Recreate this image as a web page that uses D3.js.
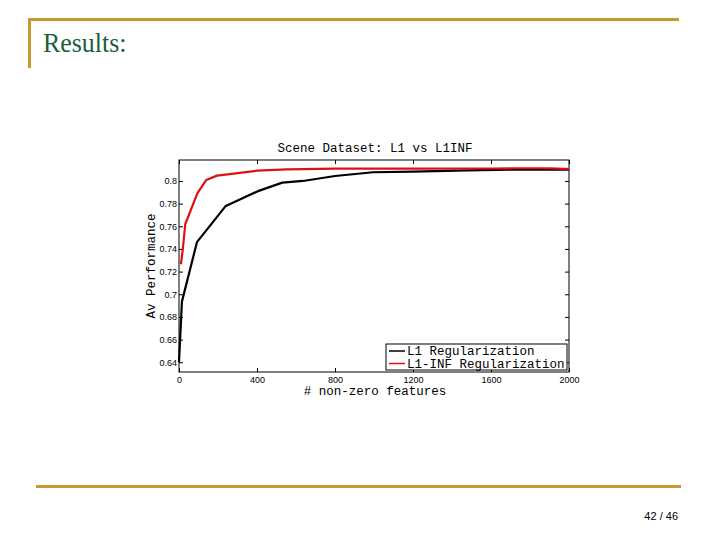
<!DOCTYPE html>
<html>
<head>
<meta charset="utf-8">
<script src="https://cdn.jsdelivr.net/npm/d3@7"></script>
<style>
  html, body { margin: 0; padding: 0; background: #fff; }
  svg { display: block; }
</style>
</head>
<body>
<svg id="chart" width="720" height="540"></svg>
<script>
// ---- data ----
const chartTitle = "Scene Dataset: L1 vs L1INF";
const xLabel = "# non-zero features";
const yLabel = "Av Performance";
const xTicks = [0, 400, 800, 1200, 1600, 2000];
const yTicks = [0.64, 0.66, 0.68, 0.70, 0.72, 0.74, 0.76, 0.78, 0.80];
const seriesNames = ["L1 Regularization", "L1-INF Regularization"];
const l1X = [0, 15, 92, 240, 405, 530, 636, 800, 995, 1200, 1480, 1700, 2000];
const l1Y = [0.640, 0.6935, 0.746, 0.778, 0.791, 0.7985, 0.800, 0.8044, 0.8077, 0.8082, 0.8094, 0.8100, 0.8100];
const linfX = [10, 20, 32, 94, 140, 195, 260, 400, 553, 800, 1200, 1600, 1700, 1900, 1980, 2000];
const linfY = [0.7265, 0.7406, 0.7618, 0.789, 0.8009, 0.8047, 0.806, 0.8091, 0.8103, 0.8109, 0.8109, 0.8110, 0.8112, 0.8112, 0.8106, 0.8108];
const pageTitle = "Results:";
const pageNumber = "42 / 46";

(function () {
const svg = d3.select("#chart");
const gold = "#c49a2c";

// ---- slide decoration ----
svg.append("line").attr("x1", 28).attr("x2", 679).attr("y1", 19.5).attr("y2", 19.5)
  .attr("stroke", gold).attr("stroke-width", 3);
svg.append("line").attr("x1", 29.5).attr("x2", 29.5).attr("y1", 18).attr("y2", 68)
  .attr("stroke", gold).attr("stroke-width", 3);
svg.append("line").attr("x1", 36).attr("x2", 681).attr("y1", 486.5).attr("y2", 486.5)
  .attr("stroke", gold).attr("stroke-width", 3);
svg.append("text").attr("x", 43).attr("y", 52)
  .attr("font-family", "'Liberation Serif', 'Times New Roman', serif")
  .attr("font-size", 27).attr("fill", "#1b5e3b")
  .attr("transform", "translate(43,52) scale(0.96,1) translate(-43,-52)")
  .text(pageTitle);
svg.append("text").attr("x", 678).attr("y", 520).attr("text-anchor", "end")
  .attr("font-family", "'Liberation Sans', Arial, sans-serif")
  .attr("font-size", 11).attr("fill", "#000")
  .text(pageNumber);

// ---- chart ----
const pLeft = 179, pRight = 569, pTop = 160, pBottom = 372;
const x = d3.scaleLinear().domain([0, 2000]).range([pLeft, pRight]);
const y = d3.scaleLinear().domain([0.6314, 0.8185]).range([pBottom, pTop]);

const tickFont = "'Liberation Sans', Arial, sans-serif";
const monoFont = "'Liberation Mono', 'Courier New', monospace";

const gxB = svg.append("g").attr("transform", `translate(0,${pBottom})`)
  .call(d3.axisBottom(x).tickValues(xTicks).tickSize(-4).tickPadding(5).tickFormat(d3.format("d")));
const gxT = svg.append("g").attr("transform", `translate(0,${pTop})`)
  .call(d3.axisTop(x).tickValues(xTicks).tickSize(-4).tickFormat(""));
const gyL = svg.append("g").attr("transform", `translate(${pLeft},0)`)
  .call(d3.axisLeft(y).tickValues(yTicks).tickSize(-4).tickPadding(2).tickFormat(d => String(+d.toFixed(2))));
const gyR = svg.append("g").attr("transform", `translate(${pRight},0)`)
  .call(d3.axisRight(y).tickValues(yTicks).tickSize(-4).tickFormat(""));
[gxB, gxT, gyL, gyR].forEach(g => {
  g.select(".domain").remove();
  g.selectAll(".tick line").attr("stroke", "#000").attr("stroke-width", 1);
  g.selectAll(".tick text").attr("font-family", tickFont).attr("font-size", 9).attr("fill", "#000");
});

svg.append("rect").attr("x", pLeft).attr("y", pTop)
  .attr("width", pRight - pLeft).attr("height", pBottom - pTop)
  .attr("fill", "none").attr("stroke", "#000").attr("stroke-width", 1);

const line = d3.line().x(d => x(d[0])).y(d => y(d[1]));
const l1Data = l1X.map((v, i) => [v, l1Y[i]]);
const linfData = linfX.map((v, i) => [v, linfY[i]]);

svg.append("path").datum(l1Data).attr("d", line)
  .attr("fill", "none").attr("stroke", "#000").attr("stroke-width", 2.2).attr("stroke-linejoin", "round");
svg.append("path").datum(linfData).attr("d", line)
  .attr("fill", "none").attr("stroke", "#e01010").attr("stroke-width", 2.2).attr("stroke-linejoin", "round");

svg.append("text").attr("x", 375).attr("y", 152).attr("text-anchor", "middle")
  .attr("font-family", monoFont).attr("font-size", 12.5).attr("fill", "#000")
  .text(chartTitle);
svg.append("text").attr("x", 375).attr("y", 395).attr("text-anchor", "middle")
  .attr("font-family", monoFont).attr("font-size", 12.5).attr("fill", "#000")
  .text(xLabel);
svg.append("text").attr("transform", "translate(155,266) rotate(-90)").attr("text-anchor", "middle")
  .attr("font-family", monoFont).attr("font-size", 12.5).attr("fill", "#000")
  .text(yLabel);

const lg = svg.append("g");
lg.append("rect").attr("x", 386).attr("y", 344).attr("width", 181).attr("height", 26)
  .attr("fill", "#fff").attr("stroke", "#000").attr("stroke-width", 1);
const legendColors = ["#000", "#e01010"];
seriesNames.forEach((name, i) => {
  const yy = 351 + i * 12.5;
  lg.append("line").attr("x1", 389).attr("x2", 405).attr("y1", yy).attr("y2", yy)
    .attr("stroke", legendColors[i]).attr("stroke-width", 1.5);
  lg.append("text").attr("x", 407).attr("y", yy + 4)
    .attr("font-family", monoFont).attr("font-size", 12.5).attr("fill", "#000")
    .text(name);
});
})();
</script>
</body>
</html>
